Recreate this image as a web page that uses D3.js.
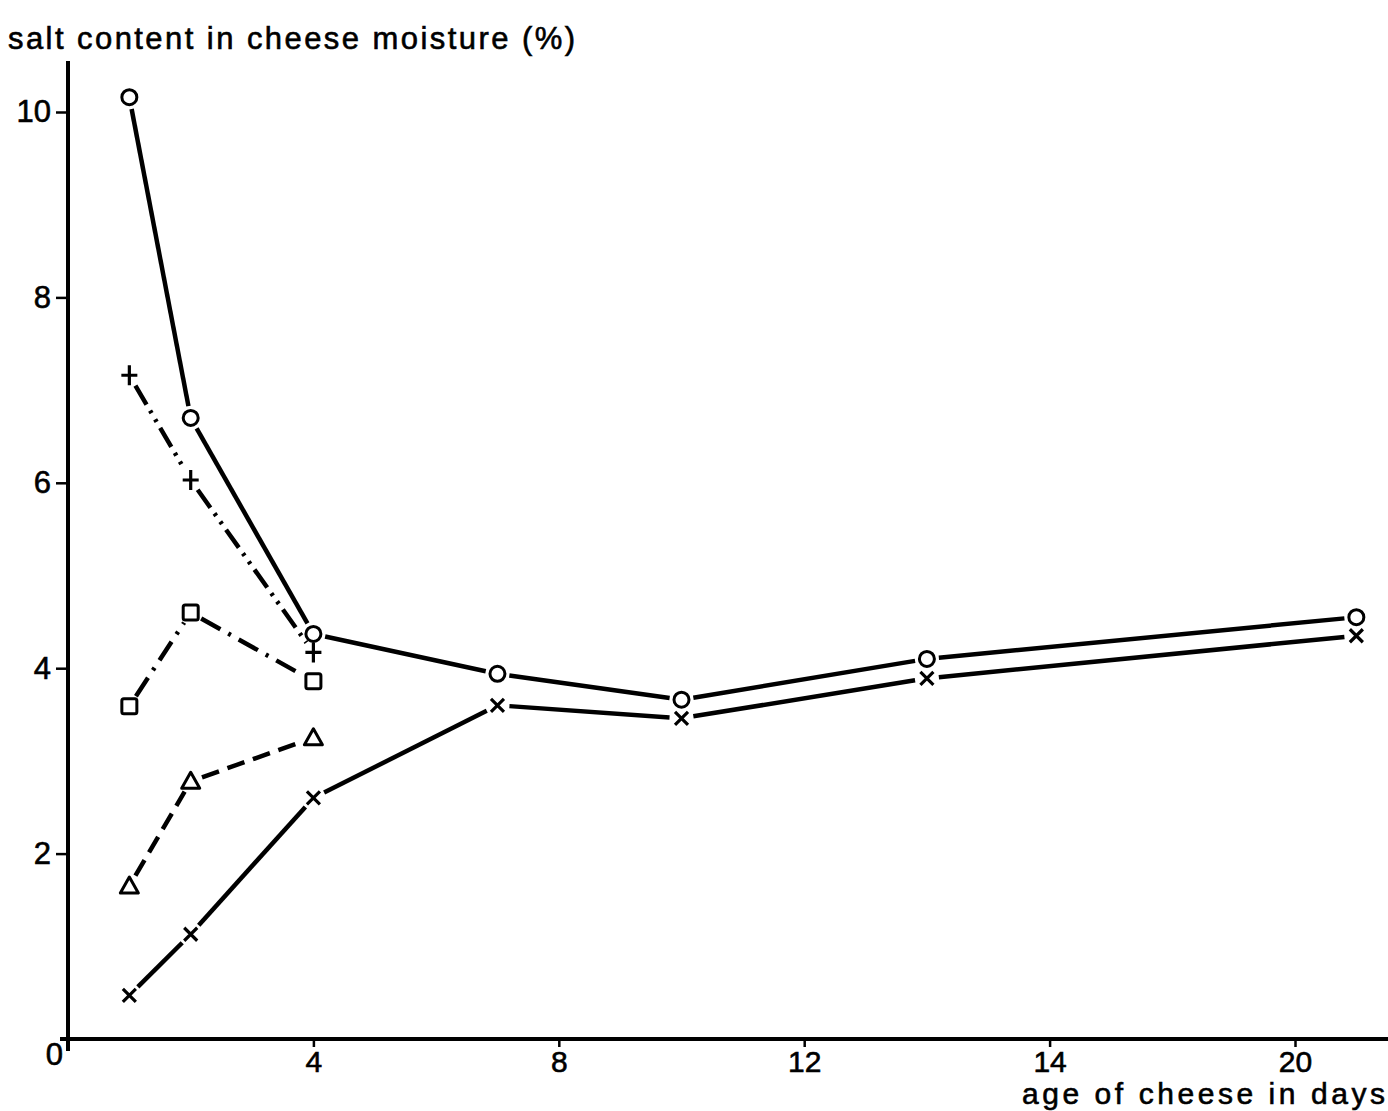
<!DOCTYPE html>
<html>
<head>
<meta charset="utf-8">
<script src="https://cdn.jsdelivr.net/npm/d3@7"></script>
<style>
  html, body { margin: 0; padding: 0; background: #fff; }
  svg { display: block; }
  text { font-family: "Liberation Sans", Arial, sans-serif; fill: #000; stroke: #000; stroke-width: 0.6; }
</style>
</head>
<body>
<script>
// ---- data ----
const daysLong = [1, 2, 4, 7, 10, 14, 21];
const daysShort = [1, 2, 4];
const circleValues = [10.16, 6.70, 4.37, 3.94, 3.66, 4.10, 4.55];
const crossValues = [0.47, 1.13, 2.60, 3.60, 3.46, 3.89, 4.35];
const plusValues = [7.16, 6.03, 4.17];
const squareValues = [3.59, 4.60, 3.86];
const triangleValues = [1.65, 2.78, 3.25];
const xTickValues = [4, 8, 12, 16, 20];
const xTickLabels = ["4", "8", "12", "14", "20"];
const yTickValues = [2, 4, 6, 8, 10];
const yTickLabels = ["2", "4", "6", "8", "10"];
const yTitle = "salt content in cheese moisture (%)";
const xTitle = "age of cheese in days";

const series = [
  { name: "circle", days: daysLong, values: circleValues, marker: "circle", dash: null },
  { name: "cross", days: daysLong, values: crossValues, marker: "cross", dash: null },
  { name: "plus", days: daysShort, values: plusValues, marker: "plus", dash: "22,7,3,7,3,7" },
  { name: "square", days: daysShort, values: squareValues, marker: "square", dash: "22,9,3,9" },
  { name: "triangle", days: daysShort, values: triangleValues, marker: "triangle", dash: "18,9" }
];

const W = 1388, H = 1111;
const svg = d3.select("body").append("svg").attr("width", W).attr("height", H);

const x = d3.scaleLinear().domain([0, 20]).range([68, 1295]);
const y = d3.scaleLinear().domain([0, 10]).range([1039, 112]);

// ---- axes ----
const axisG = svg.append("g").attr("stroke", "#000");
axisG.append("line")
  .attr("x1", x(0) - 8).attr("x2", W).attr("y1", y(0)).attr("y2", y(0))
  .attr("stroke-width", 4);
axisG.append("line")
  .attr("x1", x(0)).attr("x2", x(0)).attr("y1", y(0) + 12).attr("y2", y(10.55))
  .attr("stroke-width", 4);

// x ticks
const xAxis = d3.axisBottom(x).tickValues(xTickValues)
  .tickFormat((d, i) => xTickLabels[i]).tickSize(8).tickPadding(4);
const gx = svg.append("g").attr("transform", `translate(0,${y(0)})`).call(xAxis);
gx.select(".domain").remove();
gx.selectAll(".tick line").attr("stroke", "#000").attr("stroke-width", 2.5);
gx.selectAll(".tick text").attr("font-size", 30).attr("font-family", "Liberation Sans, Arial, sans-serif");

// y ticks
const yAxis = d3.axisLeft(y).tickValues(yTickValues)
  .tickFormat((d, i) => yTickLabels[i]).tickSize(12).tickPadding(5);
const gy = svg.append("g").attr("transform", `translate(${x(0)},0)`).call(yAxis);
gy.select(".domain").remove();
gy.selectAll(".tick line").attr("stroke", "#000").attr("stroke-width", 2.5);
gy.selectAll(".tick text").attr("font-size", 31).attr("font-family", "Liberation Sans, Arial, sans-serif");

// origin label
svg.append("text").attr("x", x(0) - 5).attr("y", y(0) + 18)
  .attr("text-anchor", "end").attr("dominant-baseline", "middle")
  .attr("font-size", 31).text("0");

// titles
svg.append("text").attr("x", 8).attr("y", 49).attr("font-size", 31)
  .attr("textLength", 567).attr("lengthAdjust", "spacing").text(yTitle);
svg.append("text").attr("x", 1385).attr("y", 1104).attr("font-size", 30)
  .attr("text-anchor", "end").attr("textLength", 363).attr("lengthAdjust", "spacing").text(xTitle);

// ---- lines (segments with gaps at markers) ----
const gap = 12;
const linesG = svg.append("g").attr("fill", "none").attr("stroke", "#000")
  .attr("stroke-width", 4.5).attr("stroke-linecap", "butt");
series.forEach(s => {
  const pts = s.days.map((d, i) => [x(d), y(s.values[i])]);
  d3.pairs(pts).forEach(([a, b]) => {
    const dx = b[0] - a[0], dy = b[1] - a[1];
    const len = Math.hypot(dx, dy);
    const ux = dx / len, uy = dy / len;
    linesG.append("line")
      .attr("x1", a[0] + ux * gap).attr("y1", a[1] + uy * gap)
      .attr("x2", b[0] - ux * gap).attr("y2", b[1] - uy * gap)
      .attr("stroke-dasharray", s.dash);
  });
});

// ---- markers ----
const mG = svg.append("g").attr("stroke", "#000").attr("fill", "none").attr("stroke-width", 3);
series.forEach(s => {
  s.days.forEach((d, i) => {
    const cx = x(d), cy = y(s.values[i]);
    const g = mG.append("g").attr("transform", `translate(${cx},${cy})`);
    if (s.marker === "circle") {
      g.append("circle").attr("r", 7.5);
    } else if (s.marker === "cross") {
      const r = 6.5;
      g.append("path").attr("d", `M${-r},${-r}L${r},${r}M${r},${-r}L${-r},${r}`).attr("stroke-width", 3.2);
    } else if (s.marker === "plus") {
      g.append("path").attr("d", `M0,-10L0,10M-8,0L8,0`).attr("stroke-width", 3.2);
    } else if (s.marker === "square") {
      g.append("rect").attr("x", -7.5).attr("y", -7.5).attr("width", 15).attr("height", 15).attr("rx", 2);
    } else if (s.marker === "triangle") {
      g.append("path").attr("d", `M0,-9L9,7L-9,7Z`).attr("stroke-linejoin", "round");
    }
  });
});
</script>
</body>
</html>
